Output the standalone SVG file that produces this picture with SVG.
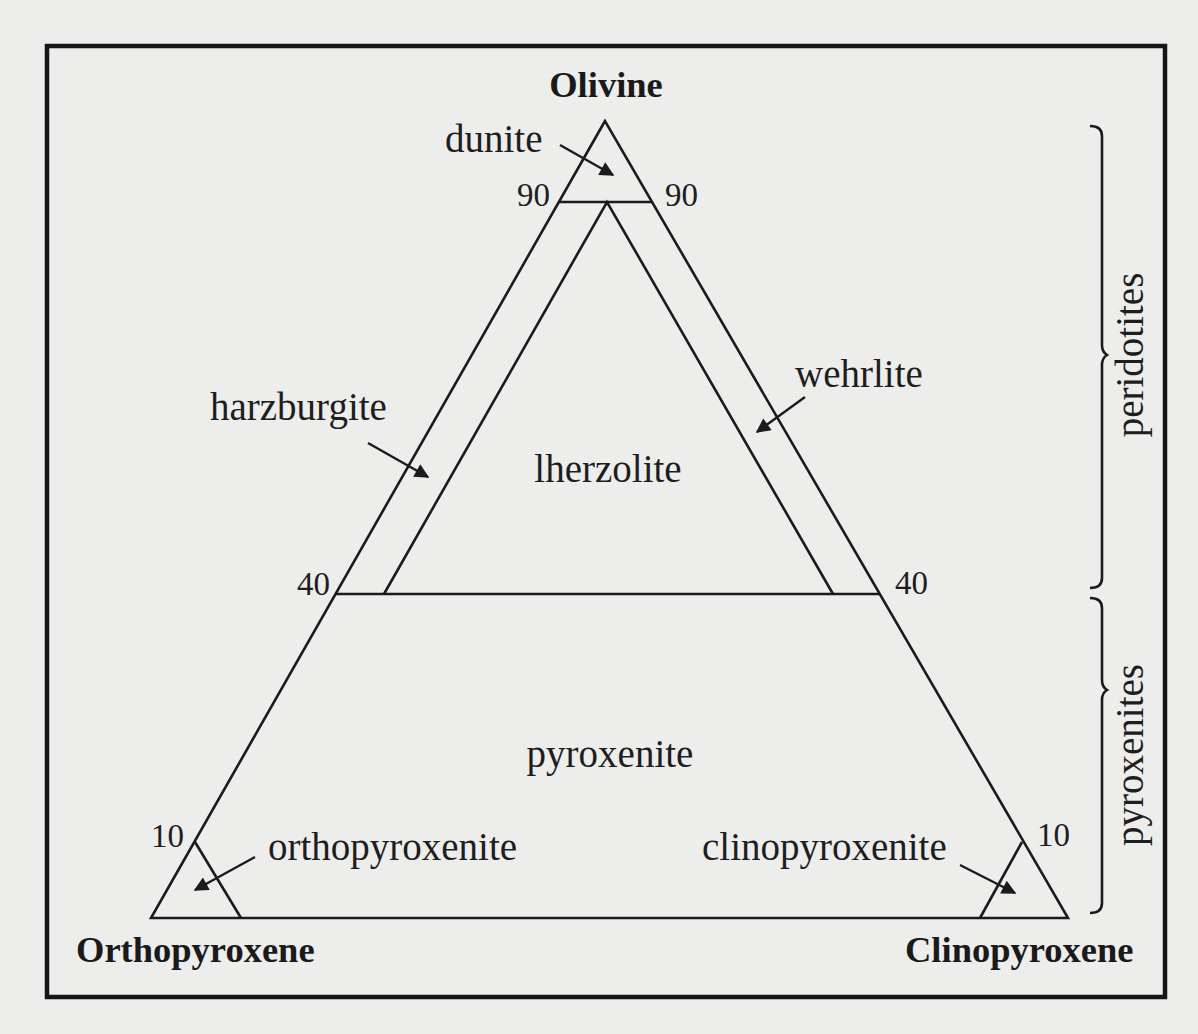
<svg xmlns="http://www.w3.org/2000/svg" width="1198" height="1034" viewBox="0 0 1198 1034">
<style>
.ln{fill:none;stroke:#1b1b1b;stroke-width:2.6;stroke-linejoin:miter}
.fr{fill:none;stroke:#161616;stroke-width:4.5}
.t{font-family:"Liberation Serif",serif;font-size:39px;fill:#1e1e1e}
.b{font-family:"Liberation Serif",serif;font-size:36.5px;font-weight:bold;fill:#1a1a1a}
.n{font-family:"Liberation Serif",serif;font-size:33px;fill:#1e1e1e}
.ar{fill:none;stroke:#1b1b1b;stroke-width:2.4}
</style>
<defs>
<marker id="ah" viewBox="0 0 10 10" refX="9" refY="5" markerWidth="7" markerHeight="6" orient="auto" markerUnits="strokeWidth">
<path d="M0,0 L10,5 L0,10 Z" fill="#1b1b1b"/>
</marker>
</defs>
<rect x="0" y="0" width="1198" height="1034" fill="#ededec"/>
<rect id="frame" class="fr" x="47" y="46" width="1118" height="951"/>

<g id="ternary">
<polygon class="ln" points="605,121 151,918 1068,918"/>
<line class="ln" x1="559" y1="202" x2="652" y2="202"/>
<line class="ln" x1="335" y1="594" x2="880" y2="594"/>
<polyline class="ln" points="384,594 607,202 833,594"/>
<line class="ln" x1="195" y1="842" x2="241" y2="918"/>
<line class="ln" x1="1022" y1="842" x2="980" y2="918"/>
</g>

<g id="node-olivine"><text class="b" x="606" y="97" text-anchor="middle">Olivine</text></g>
<g id="node-orthopyroxene"><text class="b" x="76" y="962">Orthopyroxene</text></g>
<g id="node-clinopyroxene"><text class="b" x="905" y="962">Clinopyroxene</text></g>

<g id="ticks">
<text class="n" x="550" y="206" text-anchor="end">90</text>
<text class="n" x="665" y="206">90</text>
<text class="n" x="330" y="595" text-anchor="end">40</text>
<text class="n" x="895" y="594">40</text>
<text class="n" x="184" y="847" text-anchor="end">10</text>
<text class="n" x="1037" y="846">10</text>
</g>

<g id="node-dunite"><text class="t" x="445" y="152">dunite</text></g>
<g id="node-harzburgite"><text class="t" x="210" y="420">harzburgite</text></g>
<g id="node-wehrlite"><text class="t" x="795" y="387">wehrlite</text></g>
<g id="node-lherzolite"><text class="t" x="608" y="482" text-anchor="middle">lherzolite</text></g>
<g id="node-pyroxenite"><text class="t" x="610" y="767" text-anchor="middle">pyroxenite</text></g>
<g id="node-orthopyroxenite"><text class="t" x="268" y="860">orthopyroxenite</text></g>
<g id="node-clinopyroxenite"><text class="t" x="702" y="860">clinopyroxenite</text></g>

<g id="connectors">
<line class="ar" x1="560" y1="145" x2="613" y2="175" marker-end="url(#ah)"/>
<line class="ar" x1="368" y1="443" x2="428" y2="477" marker-end="url(#ah)"/>
<line class="ar" x1="805" y1="397" x2="757" y2="432" marker-end="url(#ah)"/>
<line class="ar" x1="255" y1="857" x2="195" y2="890" marker-end="url(#ah)"/>
<line class="ar" x1="960" y1="865" x2="1015" y2="893" marker-end="url(#ah)"/>
</g>

<g id="brackets">
<path class="ln" d="M1090,126 Q1102,126 1102,136 L1102,345 Q1102,352 1107,355 Q1102,358 1102,365 L1102,578 Q1102,588 1090,588"/>
<path class="ln" d="M1090,598 Q1102,598 1102,608 L1102,680 Q1102,687 1107,690 Q1102,693 1102,700 L1102,903 Q1102,913 1090,913"/>
</g>

<g id="node-peridotites"><text class="t" transform="translate(1143,355) rotate(-90)" text-anchor="middle">peridotites</text></g>
<g id="node-pyroxenites"><text class="t" transform="translate(1143,755) rotate(-90)" text-anchor="middle">pyroxenites</text></g>
</svg>
